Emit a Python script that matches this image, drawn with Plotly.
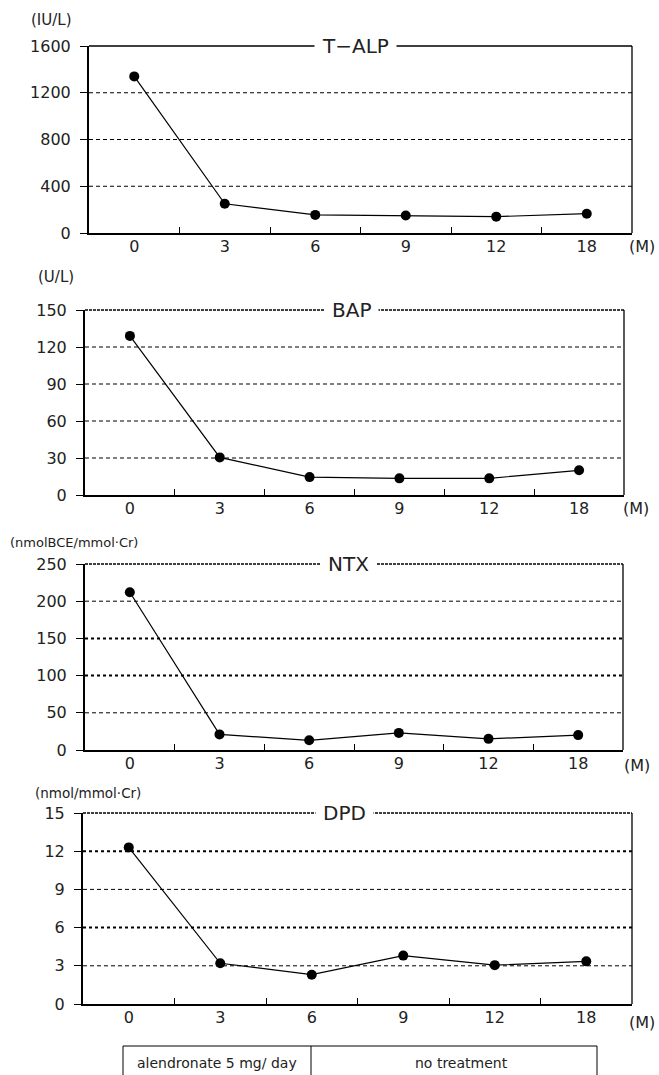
import plotly.graph_objects as go

W, H = 659, 1075
FONT = "DejaVu Sans"

months = ["0", "3", "6", "9", "12", "18"]
talp = [1340, 250, 155, 150, 140, 165]
bap = [129, 30.5, 14.5, 13.5, 13.5, 20]
ntx = [212, 21, 13, 23, 15, 20]
dpd = [12.3, 3.2, 2.3, 3.8, 3.05, 3.35]

titles = ["T\u2212ALP", "BAP", "NTX", "DPD"]
units = ["(IU/L)", "(U/L)", "(nmolBCE/mmol\u00b7Cr)", "(nmol/mmol\u00b7Cr)"]
y_max = [1600, 150, 250, 15]
y_step = [400, 30, 50, 3]
series = [talp, bap, ntx, dpd]
phase_labels = ["alendronate 5 mg/ day", "no treatment"]

# layout geometry (pixels): left, right, top, bottom
geom = [(89, 632, 46, 233), (85, 624, 310, 495), (85, 623, 564, 750), (83, 632, 813, 1004)]
title_pos = [0.49, 0.495, 0.49, 0.477]
unit_pos = [(29, 20, 15), (36, 277, 15), (8, 542, 13), (33, 793, 13.5)]
m_pos = [(642, 246), (636, 509), (637, 765), (642, 1022)]
# gridline styles: 'n' normal dashed, 'b' bold dotted
grid_styles = [
    {1200: "n", 800: "n", 400: "n"},
    {120: "n", 90: "n", 60: "n", 30: "n"},
    {200: "n", 150: "b", 100: "b", 50: "n"},
    {12: "b", 9: "n", 6: "b", 3: "n"},
]
top_solid = [True, False, False, False]


def fx(px):
    return px / W


def fy(py):
    return 1 - py / H


fig = go.Figure()
shapes = []
annotations = []

for i in range(4):
    k = "" if i == 0 else str(i + 1)
    xa, ya = "x" + k, "y" + k
    l, r, t, b = geom[i]
    fig.add_trace(go.Scatter(
        x=months, y=series[i], xaxis=xa, yaxis=ya, mode="lines+markers",
        line=dict(color="black", width=1.2),
        marker=dict(color="black", size=10, symbol="circle"),
        cliponaxis=False, showlegend=False,
    ))
    fig.update_layout(**{
        "xaxis" + k: dict(
            domain=[fx(l), fx(r)], anchor=ya, type="category",
            categoryorder="array", categoryarray=months,
            range=[-0.5, 5.5], tickson="boundaries", ticks="inside", ticklen=6,
            tickwidth=1.2, tickcolor="black", showgrid=False, zeroline=False,
            showline=True, linecolor="black", linewidth=2,
            ticklabelstandoff=-2,
            tickfont=dict(family=FONT, size=16, color="#222"), fixedrange=True,
        ),
        "yaxis" + k: dict(
            domain=[fy(b), fy(t)], anchor=xa, range=[0, y_max[i]],
            tickvals=list(range(0, y_max[i] + 1, y_step[i])),
            ticks="outside", ticklen=7, tickwidth=1.2, tickcolor="black",
            ticklabelstandoff=6,
            showgrid=False, zeroline=False, showline=True, linecolor="black",
            linewidth=2, tickfont=dict(family=FONT, size=16, color="#222"),
            fixedrange=True,
        ),
    })
    # gridlines
    for v, s in grid_styles[i].items():
        if s == "n":
            ln = dict(color="black", width=1, dash="4px,3px")
        else:
            ln = dict(color="black", width=2, dash="3px,3px")
        shapes.append(dict(type="line", xref=xa + " domain", yref=ya,
                           x0=0, x1=1, y0=v, y1=v, line=ln, layer="below"))
    # top & right frame
    if top_solid[i]:
        tl = dict(color="black", width=1.3)
    else:
        tl = dict(color="black", width=1.5, dash="3px,1px")
    shapes.append(dict(type="line", xref=xa + " domain", yref=ya + " domain",
                       x0=0, x1=1, y0=1, y1=1, line=tl))
    shapes.append(dict(type="line", xref=xa + " domain", yref=ya + " domain",
                       x0=1, x1=1, y0=0, y1=1, line=dict(color="black", width=1.3)))
    # title on top border
    annotations.append(dict(
        text=titles[i], xref=xa + " domain", yref=ya + " domain",
        x=title_pos[i], y=1, xanchor="center", yanchor="middle", showarrow=False,
        bgcolor="white", borderpad=7,
        font=dict(family=FONT, size=20, color="#222"),
    ))
    ux, uy, us = unit_pos[i]
    annotations.append(dict(
        text=units[i], xref="paper", yref="paper", x=fx(ux), y=fy(uy),
        xanchor="left", yanchor="middle", showarrow=False,
        font=dict(family=FONT, size=us, color="#222"),
    ))
    mx, my = m_pos[i]
    annotations.append(dict(
        text="(M)", xref="paper", yref="paper", x=fx(mx), y=fy(my),
        xanchor="center", yanchor="middle", showarrow=False,
        font=dict(family=FONT, size=16, color="#222"),
    ))

# treatment phase box
shapes.append(dict(type="rect", xref="paper", yref="paper",
                   x0=fx(123), x1=fx(597), y0=fy(1046), y1=fy(1090),
                   line=dict(color="black", width=1)))
shapes.append(dict(type="line", xref="paper", yref="paper",
                   x0=fx(311), x1=fx(311), y0=fy(1046), y1=fy(1090),
                   line=dict(color="black", width=1)))
annotations.append(dict(text=phase_labels[0], xref="paper", yref="paper",
                        x=fx(217), y=fy(1063), xanchor="center", yanchor="middle",
                        showarrow=False, font=dict(family=FONT, size=14, color="#222")))
annotations.append(dict(text=phase_labels[1], xref="paper", yref="paper",
                        x=fx(461), y=fy(1063), xanchor="center", yanchor="middle",
                        showarrow=False, font=dict(family=FONT, size=14, color="#222")))

fig.update_layout(
    width=W, height=H, margin=dict(l=0, r=0, t=0, b=0, autoexpand=False),
    paper_bgcolor="white", plot_bgcolor="white",
    shapes=shapes, annotations=annotations, showlegend=False,
    font=dict(family=FONT, color="#222"),
)

fig.write_html(
    "out.html",
    config={"displayModeBar": False},
    post_script="document.body.style.margin='0';document.body.style.overflow='hidden';",
)
